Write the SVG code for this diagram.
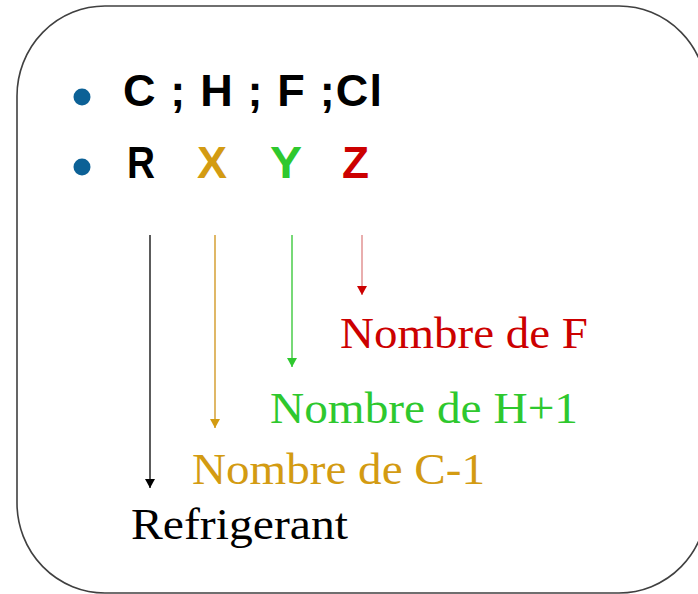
<svg xmlns="http://www.w3.org/2000/svg" width="698" height="594" viewBox="0 0 698 594">
<style>
.frame{fill:#fff;stroke:#404040;stroke-width:1.6}
.bul{fill:#0c6196}
.head{font-family:"Liberation Sans",Arial,sans-serif;font-weight:bold;font-size:45px}
.lab{font-family:"Liberation Serif","Times New Roman",serif;font-size:45px}
.ln{stroke-width:1.6;fill:none}
</style>
<defs>
<marker id="ak" markerWidth="10" markerHeight="10" refX="5" refY="9" markerUnits="userSpaceOnUse" viewBox="0 0 10 10"><path d="M0,0 L10,0 L5,9 Z" fill="#000"/></marker>
<marker id="ag" markerWidth="10" markerHeight="10" refX="5" refY="9" markerUnits="userSpaceOnUse" viewBox="0 0 10 10"><path d="M0,0 L10,0 L5,9 Z" fill="#d39b12"/></marker>
<marker id="an" markerWidth="10" markerHeight="10" refX="5" refY="9" markerUnits="userSpaceOnUse" viewBox="0 0 10 10"><path d="M0,0 L10,0 L5,9 Z" fill="#2ec82e"/></marker>
<marker id="ar" markerWidth="10" markerHeight="10" refX="5" refY="9" markerUnits="userSpaceOnUse" viewBox="0 0 10 10"><path d="M0,0 L10,0 L5,9 Z" fill="#cc0000"/></marker>
</defs>
<rect fill="#fff" x="0" y="0" width="698" height="594"/>
<g id="frame"><rect class="frame" x="17" y="6" width="690" height="587" rx="88" ry="90"/></g>
<g id="header">
<circle class="bul" cx="82" cy="97" r="8.5"/>
<text class="head" x="123" y="106" textLength="259" lengthAdjust="spacing">C ; H ; F ;Cl</text>
<circle class="bul" cx="82" cy="167" r="8.5"/>
<text class="head" x="127" y="178" textLength="28" lengthAdjust="spacingAndGlyphs">R</text>
<text class="head" x="197" y="178" fill="#d39b12" textLength="30" lengthAdjust="spacingAndGlyphs">X</text>
<text class="head" x="270" y="178" fill="#2ec82e" textLength="32" lengthAdjust="spacingAndGlyphs">Y</text>
<text class="head" x="342" y="178" fill="#cc0000" textLength="27" lengthAdjust="spacingAndGlyphs">Z</text>
</g>
<g id="connectors">
<line class="ln" x1="150" y1="235" x2="150" y2="488" stroke="#333" marker-end="url(#ak)"/>
<line class="ln" x1="215" y1="235" x2="215" y2="428" stroke="#d8a640" marker-end="url(#ag)"/>
<line class="ln" x1="292" y1="235" x2="292" y2="367" stroke="#55d055" marker-end="url(#an)"/>
<line class="ln" x1="362" y1="235" x2="362" y2="295" stroke="#e49a9a" marker-end="url(#ar)"/>
</g>
<g id="nF"><text class="lab" x="340" y="348" fill="#cc0000" textLength="248" lengthAdjust="spacingAndGlyphs">Nombre de F</text></g>
<g id="nH"><text class="lab" x="270" y="423" fill="#2ec82e" textLength="308" lengthAdjust="spacingAndGlyphs">Nombre de H+1</text></g>
<g id="nC"><text class="lab" x="192" y="484" fill="#d39b12" textLength="293" lengthAdjust="spacingAndGlyphs">Nombre de C-1</text></g>
<g id="refr"><text class="lab" x="131" y="539" fill="#000" textLength="217" lengthAdjust="spacingAndGlyphs">Refrigerant</text></g>
</svg>
